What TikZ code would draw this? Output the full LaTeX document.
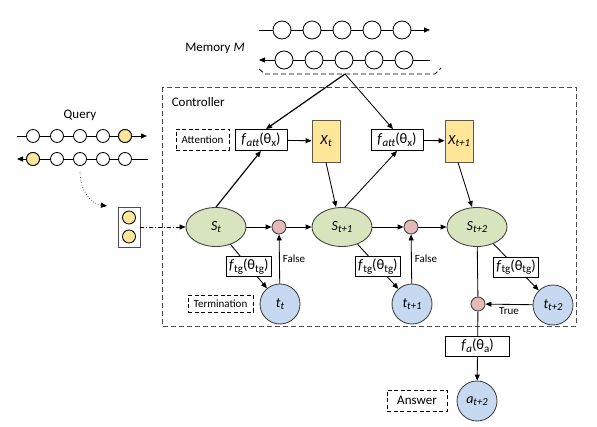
\documentclass[tikz,border=0pt]{standalone}
\usepackage{fontspec}
\setmainfont{Carlito}
\usepackage{graphicx}
\usetikzlibrary{arrows.meta,shapes.geometric}
\definecolor{qyel}{HTML}{FFE699}
\definecolor{sgreen}{HTML}{D7E4BD}
\definecolor{tblue}{HTML}{C6D9F1}
\definecolor{jpink}{HTML}{E6B9B8}
\newcommand{\sbs}[1]{\raisebox{-0.4ex}{\scalebox{0.76}{#1}}}
\newcommand{\fatt}{\textit{f}\sbs{\textit{att}}(θ\sbs{x})}
\newcommand{\ftg}{\textit{f}\sbs{tg}(θ\sbs{tg})}
\newcommand{\fans}{\textit{f}\sbs{\textit{a}}(θ\sbs{a})}
\begin{document}
\begin{tikzpicture}[x=1pt,y=-1pt,
  line width=0.85pt,
  arr/.style={-{Triangle[length=6pt,width=5pt]}},
  thk/.style={line width=1.2pt},
  mem/.style={circle,draw,fill=white,minimum size=18pt,inner sep=0pt},
  qc/.style={circle,draw,fill=white,minimum size=13pt,inner sep=0pt},
  fbox/.style={draw,fill=white,inner sep=1.5pt,minimum width=52pt,minimum height=21pt,font=\fontsize{14.5}{16}\selectfont},
  tgbox/.style={fbox,minimum width=45pt,minimum height=20pt},
  xbox/.style={draw=black!65,fill=qyel,minimum width=28pt,minimum height=42pt,inner sep=0pt,font=\fontsize{14}{15}\selectfont},
  snode/.style={ellipse,draw=black!75,fill=sgreen,minimum width=60pt,minimum height=39pt,inner sep=0pt,font=\fontsize{14}{15}\selectfont},
  tnode/.style={circle,draw=black!75,fill=tblue,minimum size=40pt,inner sep=0pt,font=\fontsize{14}{15}\selectfont},
  joint/.style={circle,draw=black!75,fill=jpink,minimum size=14pt,inner sep=0pt},
  dbox/.style={draw,dash pattern=on 4pt off 2.5pt,inner sep=0pt,font=\fontsize{11}{12}\selectfont},
  lbl/.style={font=\fontsize{13}{14}\selectfont},
  small/.style={font=\fontsize{11}{12}\selectfont,inner sep=3pt}
]
\useasboundingbox (0,0) rectangle (597,427);

% ---------- Memory ----------
\foreach \i/\x in {1/282,2/312,3/342,4/372,5/402} \node[mem] (ma\i) at (\x,30) {};
\coordinate (mas) at (259,30); \coordinate (mae) at (430,30);
\draw (mas) -- (ma1) -- (ma2) -- (ma3) -- (ma4) -- (ma5);
\draw[arr] (ma5) -- (mae);
\foreach \i/\x in {1/284,2/314,3/344,4/374,5/404} \node[mem] (mb\i) at (\x,60) {};
\coordinate (mbs) at (259,60); \coordinate (mbe) at (430,60);
\draw[arr] (mb1) -- (mbs);
\draw (mb1) -- (mb2) -- (mb3) -- (mb4) -- (mb5) -- (mbe);
\coordinate (mapex) at (345,74);
\draw[dash pattern=on 5pt off 3pt] (259,69) -- (265,74) -- (435,74) -- (441,68);
\node[lbl] (memlbl) at (215,48) {Memory \textit{M}};

% ---------- Controller frame ----------
\draw[draw=black!70,dash pattern=on 5pt off 3pt] (162,87) rectangle (576,326);
\node[lbl,anchor=west] (ctrllbl) at (168,102) {Controller};

% ---------- Query ----------
\node[lbl] (qlbl) at (80,115) {Query};
\foreach \i/\x in {1/33,2/57,3/80,4/103,5/125} \node[qc] (qa\i) at (\x,136) {};
\node[qc,fill=qyel] at (qa5) {};
\coordinate (qas) at (17,136); \coordinate (qae) at (147,136);
\draw (qas) -- (qa1) -- (qa2) -- (qa3) -- (qa4) -- (qa5);
\draw[arr] (qa5) -- (qae);
\foreach \i/\x in {1/33,2/57,3/80,4/103,5/125} \node[qc] (qb\i) at (\x,159) {};
\node[qc,fill=qyel] at (qb1) {};
\coordinate (qbs) at (17,159); \coordinate (qbe) at (148,159);
\draw[arr] (qb1) -- (qbs);
\draw (qb1) -- (qb2) -- (qb3) -- (qb4) -- (qb5) -- (qbe);
\coordinate (qc0) at (80,172); \coordinate (qc1) at (107,206);
\draw[arr,dotted,line width=0.6pt] (qc0) .. controls (80,192) and (92,204) .. (qc1);
\node[draw=black!70,minimum width=22pt,minimum height=40pt,inner sep=0pt] (qbox) at (129,227) {};
\node[qc,fill=qyel] (qy1) at (129,217.5) {};
\node[qc,fill=qyel] (qy2) at (129,236.5) {};

% ---------- Main nodes ----------
\node[dbox,minimum width=53pt,minimum height=21pt] (attn) at (202.5,139.5) {Attention};
\node[fbox] (fa1) at (261,140) {\fatt};
\node[xbox] (X1) at (326,141) {\textit{X}\sbs{\textit{t}}};
\node[fbox] (fa2) at (397,140) {\fatt};
\node[xbox] (X2) at (459,141) {\textit{X}\sbs{\textit{t+1}}};

\node[snode] (S1) at (216,227) {\textit{S}\sbs{\textit{t}}};
\node[snode] (S2) at (342,227) {\textit{S}\sbs{\textit{t+1}}};
\node[snode] (S3) at (477,227) {\textit{S}\sbs{\textit{t+2}}};
\node[joint] (J1) at (279,227) {};
\node[joint] (J2) at (411,227) {};
\node[joint] (J3) at (478,304) {};
\node[tnode] (T1) at (280,304) {\textit{t}\sbs{\textit{t}}};
\node[tnode] (T2) at (412,304) {\textit{t}\sbs{\textit{t+1}}};
\node[tnode] (T3) at (553,305) {\textit{t}\sbs{\textit{t+2}}};
\node[tnode] (A) at (477,401) {\textit{a}\sbs{\textit{t+2}}};
\node[dbox,minimum width=65pt,minimum height=17pt] (term) at (220.5,304) {Termination};
\node[dbox,minimum width=60pt,minimum height=21pt,font=\fontsize{13}{14}\selectfont] (ans) at (417,400.5) {Answer};

% ---------- Connectors ----------
\draw[arr,dash pattern=on 4pt off 2pt on 1pt off 2pt,line width=0.6pt] (qbox) -- (S1);
\draw[arr,thk] (mapex) -- ([xshift=5pt]fa1.north);
\draw[arr] (mapex) -- ([xshift=-4pt]fa2.north);
\draw[arr,thk] (S1.north) -- (fa1.south);
\draw[arr] (fa1) -- (X1);
\draw[arr] (X1.south) -- ([xshift=-6pt]S2.north);
\draw[arr] ([xshift=3pt]S2.north) -- (fa2.south);
\draw[arr] (fa2) -- (X2);
\draw[arr] ([xshift=-1pt]X2.south) -- ([xshift=-5pt]S3.north);

\draw[arr] (S1) -- (J1);
\draw[arr] (J1) -- (S2);
\draw[arr] (S2) -- (J2);
\draw[arr] (J2) -- (S3);

\draw[arr] (S1) -- node[tgbox] (ft1) {\ftg} (T1);
\draw[arr] (S2) -- node[tgbox] (ft2) {\ftg} (T2);
\draw[arr] (S3) -- node[tgbox] (ft3) {\ftg} (T3);

\draw[arr] (T1) -- node[right,small] (fl1) {False} (J1);
\draw[arr] (T2) -- node[right,small] (fl2) {False} (J2);
\draw[arr] (T3) -- node[below,small] (tr) {True} (J3);

\draw (S3) -- (J3);
\draw[arr] (J3) -- node[fbox,minimum width=64pt,minimum height=20pt] (fa) {\fans} (A);
\end{tikzpicture}
\end{document}
